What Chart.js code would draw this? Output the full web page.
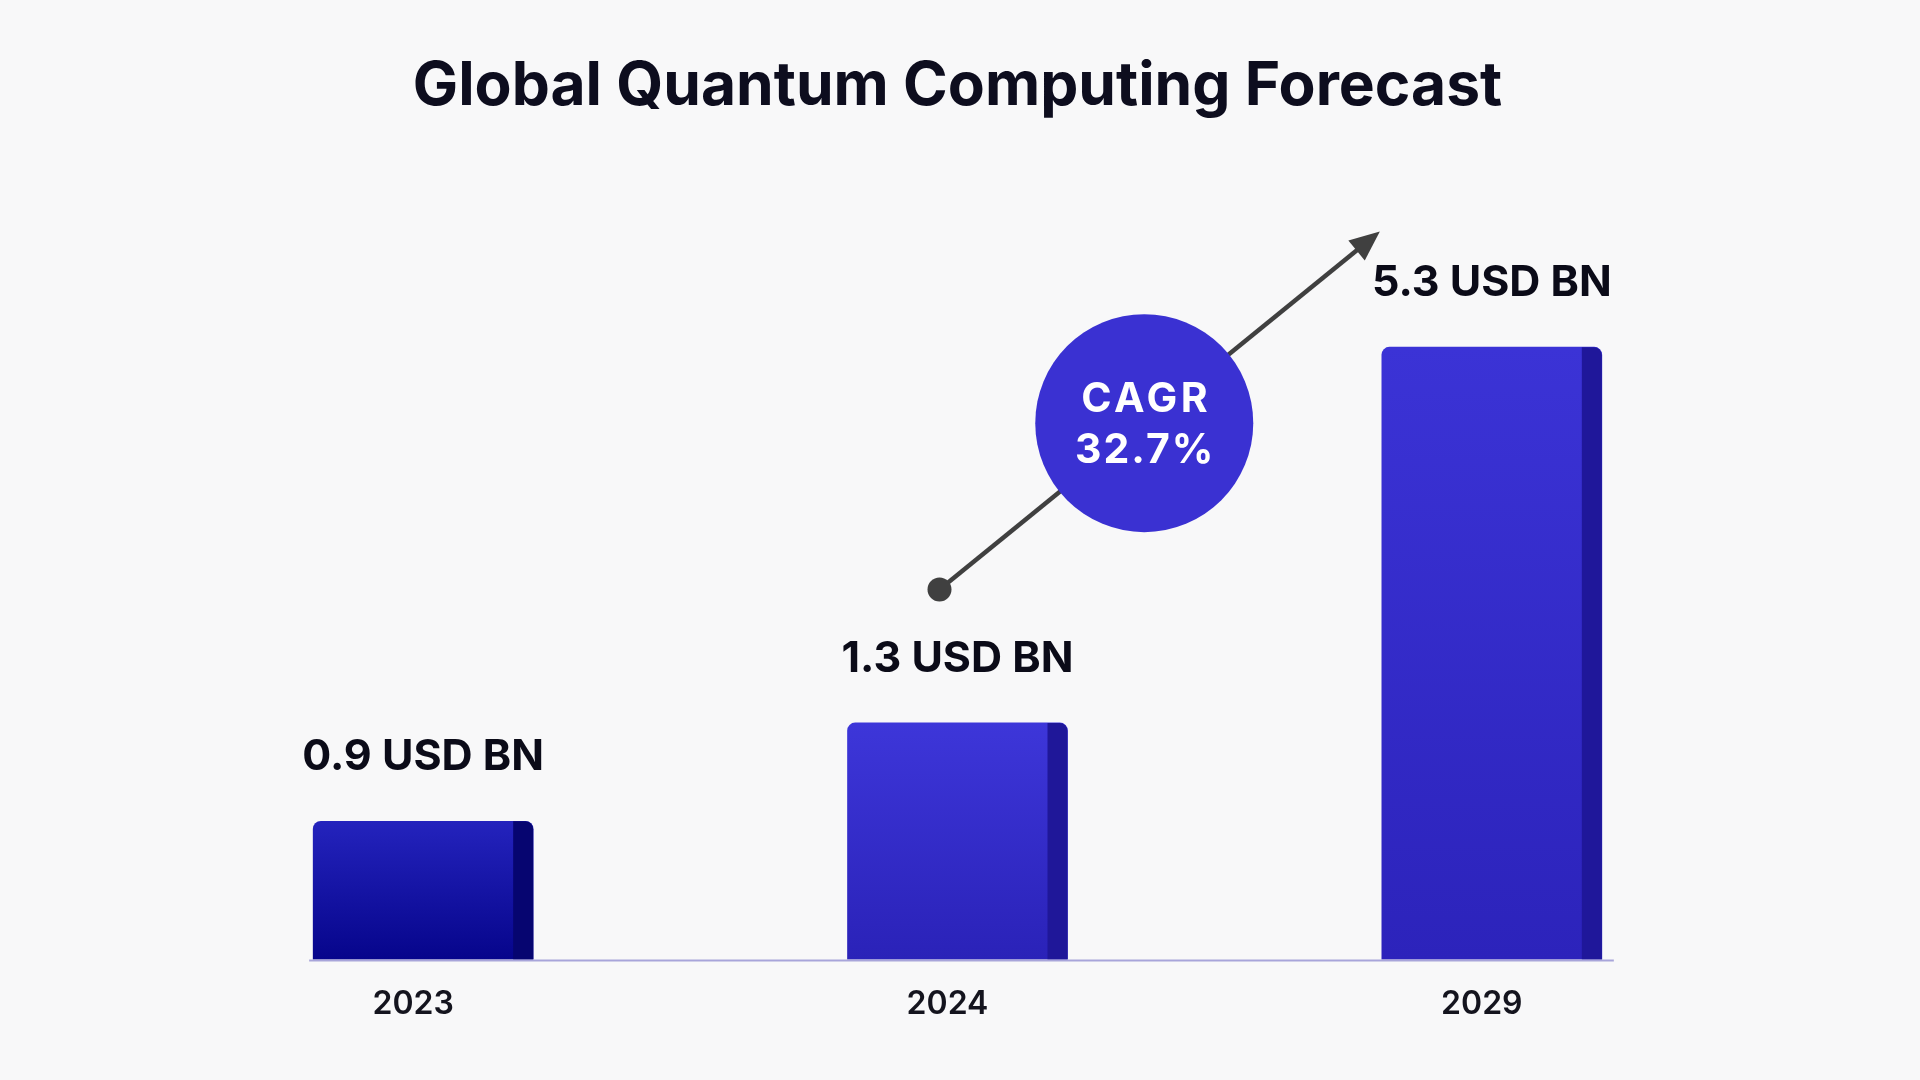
<!DOCTYPE html>
<html>
<head>
<meta charset="utf-8">
<title>Global Quantum Computing Forecast</title>
<script src="https://cdn.jsdelivr.net/npm/chart.js@4.4.1/dist/chart.umd.min.js"></script>
<style>
  html, body { margin: 0; padding: 0; background: #f8f8f9; }
  #wrap { width: 1920px; height: 1080px; }
</style>
</head>
<body>
<div id="wrap"><canvas id="forecastChart"></canvas></div>
<script>
var years = ['2023', '2024', '2029'];
var marketSize = [0.9, 1.3, 5.3];          // USD BN
var valueLabels = ['0.9 USD BN', '1.3 USD BN', '5.3 USD BN'];
var cagrLines = ['CAGR', '32.7%'];

// bar colours (front face gradient + darker side)
var faceTop = ['#2423bd', '#3d36d9', '#3b33d6'];
var faceBottom = ['#06058b', '#2a22b8', '#2c23bb'];
var sideColor = ['#060570', '#1f1799', '#1f179a'];

function faceColor(context) {
    var chart = context.chart;
    var area = chart.chartArea;
    var i = context.dataIndex;
    if (!area) return faceTop[i];
    var top = chart.scales.y.getPixelForValue(marketSize[i]);
    var g = chart.ctx.createLinearGradient(0, top, 0, area.bottom);
    g.addColorStop(0, faceTop[i]);
    g.addColorStop(1, faceBottom[i]);
    return g;
}

var decorPlugin = {
    id: 'decor',
    afterDatasetsDraw: function (chart) {
        var ctx = chart.ctx;
        var area = chart.chartArea;
        var bars = chart.getDatasetMeta(0).data;
        var side = 20;
        ctx.save();

        // darker right side of each bar
        bars.forEach(function (bar, i) {
            var right = bar.x + bar.width / 2;
            ctx.fillStyle = sideColor[i];
            ctx.beginPath();
            ctx.roundRect(right - side, bar.y, side, bar.base - bar.y, [0, 8, 0, 0]);
            ctx.fill();
        });

        // baseline
        var first = bars[0], last = bars[bars.length - 1];
        ctx.strokeStyle = '#a8a5da';
        ctx.lineWidth = 2;
        ctx.beginPath();
        ctx.moveTo(first.x - first.width / 2 - 4, area.bottom + 1);
        ctx.lineTo(last.x + last.width / 2 + 12, area.bottom + 1);
        ctx.stroke();

        // value labels
        ctx.font = '700 43px Inter';
        ctx.fillStyle = '#0b0b18';
        ctx.textAlign = 'center';
        ctx.textBaseline = 'middle';
        bars.forEach(function (bar, i) {
            ctx.fillText(valueLabels[i], bar.x, bar.y - 64);
        });

        // growth arrow from 2024 towards 2029
        var x0 = bars[1].x - 18, y0 = area.bottom - 370;
        var x1 = last.x - last.width / 2 - 2, y1 = area.bottom - 728;
        var ang = Math.atan2(y1 - y0, x1 - x0);
        var headLen = 30, headW = 13;
        var lx = x1 - Math.cos(ang) * (headLen - 2), ly = y1 - Math.sin(ang) * (headLen - 2);
        ctx.strokeStyle = '#404040';
        ctx.fillStyle = '#404040';
        ctx.lineWidth = 4.5;
        ctx.beginPath();
        ctx.moveTo(x0, y0);
        ctx.lineTo(lx, ly);
        ctx.stroke();
        ctx.beginPath();
        ctx.arc(x0, y0, 12, 0, Math.PI * 2);
        ctx.fill();
        var bx = x1 - Math.cos(ang) * headLen, by = y1 - Math.sin(ang) * headLen;
        ctx.beginPath();
        ctx.moveTo(x1, y1);
        ctx.lineTo(bx + Math.sin(ang) * headW, by - Math.cos(ang) * headW);
        ctx.lineTo(bx - Math.sin(ang) * headW, by + Math.cos(ang) * headW);
        ctx.closePath();
        ctx.fill();

        // CAGR bubble on the arrow
        var t = 0.465;
        var cx = x0 + (x1 - x0) * t, cy = y0 + (y1 - y0) * t;
        ctx.fillStyle = '#3a31d2';
        ctx.beginPath();
        ctx.arc(cx, cy, 109, 0, Math.PI * 2);
        ctx.fill();
        ctx.fillStyle = '#ffffff';
        ctx.font = '700 41px Inter';
        ctx.letterSpacing = '3.5px';
        ctx.fillText(cagrLines[0], cx + 2, cy - 23);
        ctx.letterSpacing = '2px';
        ctx.fillText(cagrLines[1], cx + 1, cy + 28);
        ctx.restore();
    }
};

var ctx = document.getElementById('forecastChart').getContext('2d');
var forecastChart = new Chart(ctx, {
    type: 'bar',
    data: {
        labels: years,
        datasets: [{
            label: 'Market size (USD BN)',
            data: marketSize,
            backgroundColor: faceColor,
            borderWidth: 0,
            borderRadius: { topLeft: 8, topRight: 8, bottomLeft: 0, bottomRight: 0 },
            borderSkipped: false,
            barThickness: 220
        }]
    },
    options: {
        responsive: true,
        maintainAspectRatio: false,
        animation: false,
        layout: {
            padding: { left: 156, right: 161, top: 0, bottom: 30 }
        },
        plugins: {
            legend: { display: false },
            tooltip: { enabled: false },
            title: {
                display: true,
                text: 'Global Quantum Computing Forecast',
                color: '#0d0d1e',
                font: { family: 'Inter', size: 60.5, weight: '700', lineHeight: 1 },
                padding: { top: 57, bottom: 47.5 }
            }
        },
        scales: {
            x: {
                grid: { display: false, drawTicks: false },
                border: { display: false },
                ticks: {
                    color: '#14141e',
                    font: { family: 'Inter', size: 32, weight: '600' },
                    padding: 26,
                    labelOffset: -10
                }
            },
            y: {
                type: 'logarithmic',
                display: false,
                bounds: 'data',
                min: 0.5364,
                max: 10.474
            }
        }
    },
    plugins: [decorPlugin]
});
</script>
</body>
</html>
